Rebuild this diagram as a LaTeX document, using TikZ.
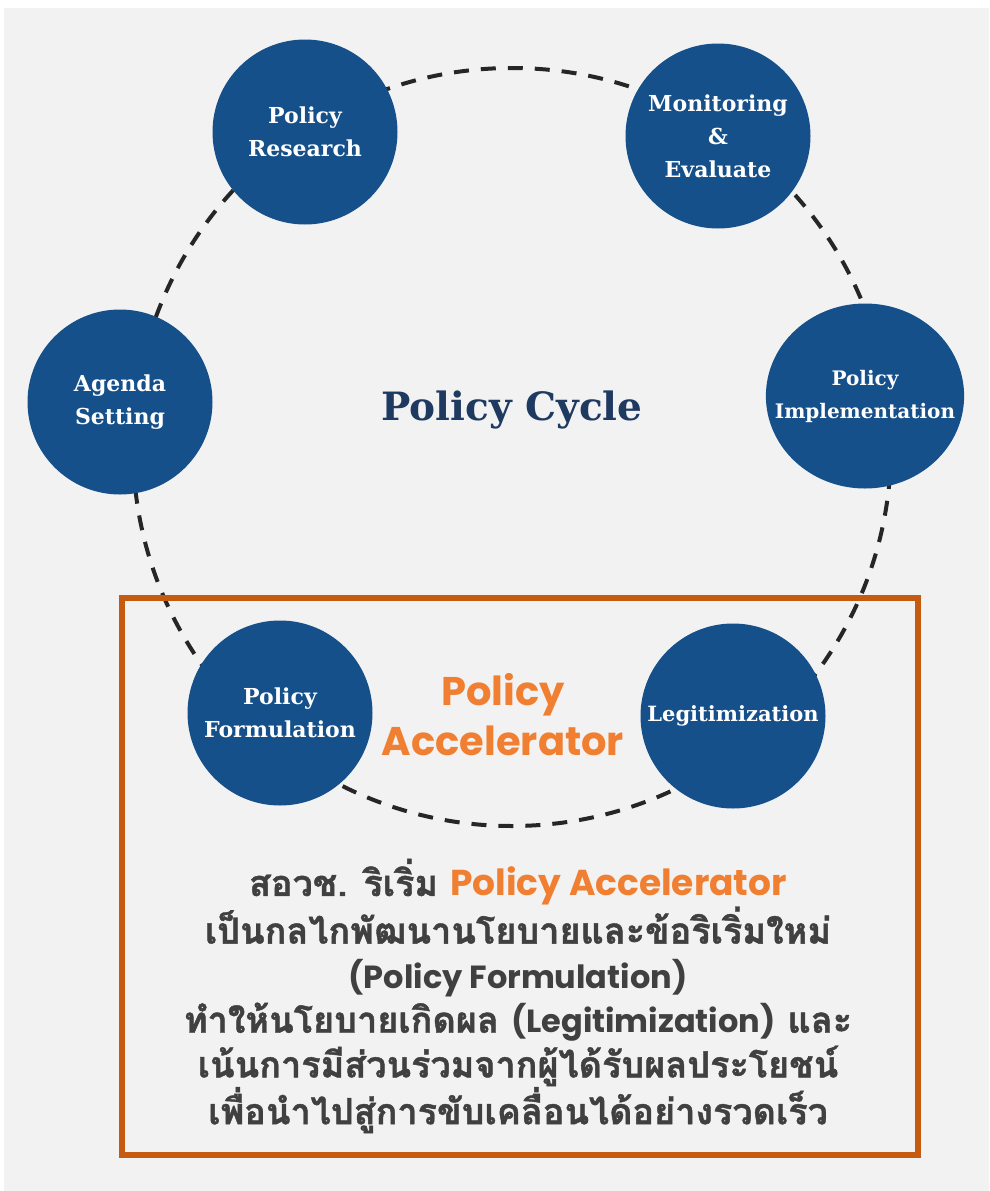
\documentclass[tikz,border=0pt]{standalone}
\usepackage{fontspec}
\setmainfont{DejaVu Serif}
\newfontfamily\thaifont[Script=Thai, BoldFeatures={FakeBold=1.2}]{Loma}
\newfontfamily\latinfont{Poppins}
\usepackage{xcolor}
\usetikzlibrary{positioning,shapes.geometric}
\definecolor{cycleblue}{HTML}{16508A}
\definecolor{cyclenavy}{HTML}{1F3A60}
\definecolor{accorange}{HTML}{F07F32}
\definecolor{boxorange}{HTML}{C55A11}
\definecolor{notegray}{HTML}{404040}
\definecolor{bggray}{HTML}{F2F2F2}
\newcommand{\lat}[2][32]{{\latinfont\fontsize{#1}{44.6}\selectfont #2}}
\tikzset{
  stage/.style={circle, fill=cycleblue, text=white, align=center, minimum size=185pt,
                inner sep=0pt, font=\bfseries\fontsize{22}{33}\selectfont},
  cycleline/.style={draw=black!85, line width=4pt, dash pattern=on 15pt off 12pt},
  accbox/.style={draw=boxorange, line width=6pt},
  note/.style={font=\thaifont\bfseries\fontsize{36}{44.6}\selectfont, text=notegray, align=center},
}

\begin{document}
\begin{tikzpicture}[x=1pt,y=-1pt]
\useasboundingbox (0,0) rectangle (989,1191);
\fill[white] (0,0) rectangle (989,1191);
\fill[bggray] (4,8) rectangle (989,1191);
% the cycle
\coordinate (hub) at (512,447);
\draw[cycleline] (hub) circle (379);
\node[stage] (research) at (305,132)  {Policy\\Research};
\node[stage] (monitor)  at (718,136)  {Monitoring\\\&\\Evaluate};
\node[stage] (agenda)   at (120,402)  {Agenda\\Setting};
\node[stage, ellipse, minimum width=197pt, minimum height=185pt, inner xsep=-20pt, inner ysep=0pt,
      font=\bfseries\fontsize{20}{33}\selectfont] (implement) at (865,396) {Policy\\Implementation};
\node[stage] (formulate) at (280,713) {Policy\\Formulation};
\node[stage, font=\bfseries\fontsize{21}{33}\selectfont] (legit) at (733,716) {Legitimization};
\node[font=\bfseries\fontsize{39}{44}\selectfont, text=cyclenavy] (title) at (hub |- 0,410) {Policy Cycle};
% accelerator box
\draw[accbox] (121.5,597.5) rectangle (918,1154.5);
\node[font=\latinfont\bfseries\fontsize{40}{50}\selectfont, text=accorange, align=center] (acc) at (503,715) {Policy\\Accelerator};
\node[note] (desc) at (518,996) {สอวช. ริเริ่ม \lat[36]{\color{accorange}Policy Accelerator}\\
  เป็นกลไกพัฒนานโยบายและข้อริเริ่มใหม่\\
  \lat{(Policy Formulation)}\\
  ทำให้นโยบายเกิดผล \lat{(Legitimization)} และ\\
  เน้นการมีส่วนร่วมจากผู้ได้รับผลประโยชน์\\
  เพื่อนำไปสู่การขับเคลื่อนได้อย่างรวดเร็ว};
\end{tikzpicture}
\end{document}
